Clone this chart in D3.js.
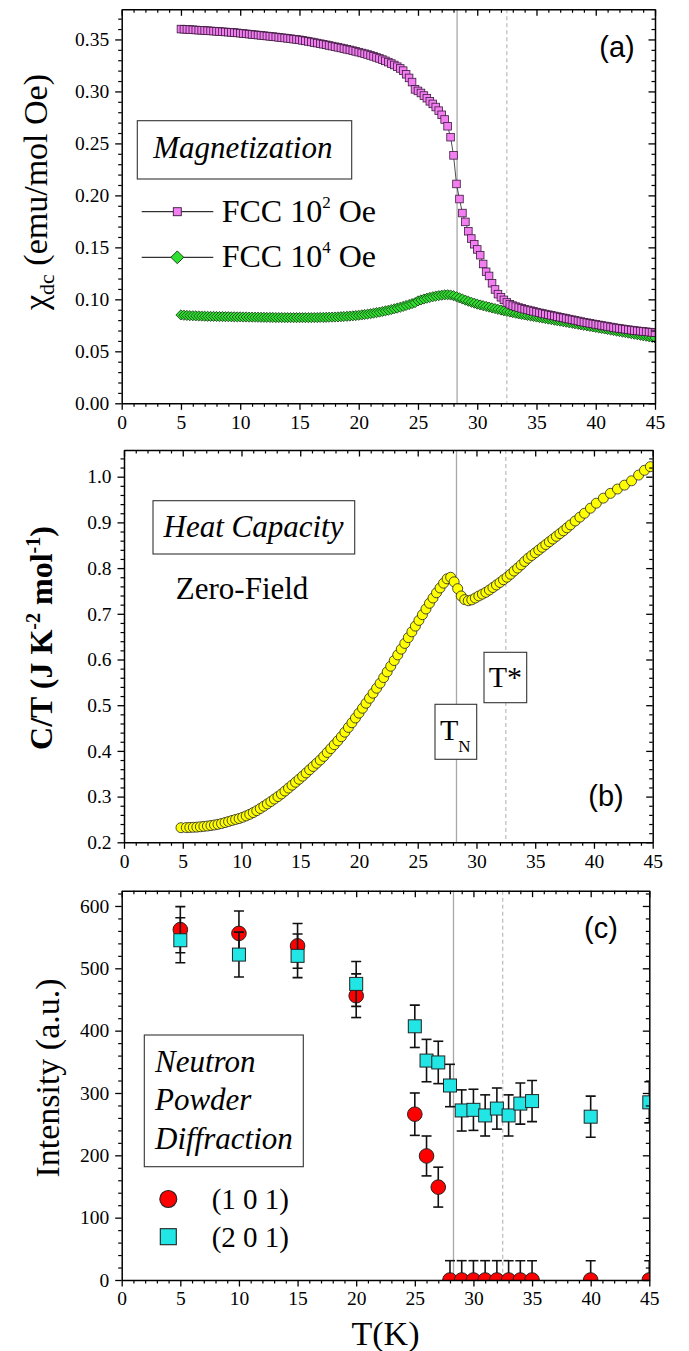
<!DOCTYPE html>
<html>
<head>
<meta charset="utf-8">
<script src="https://cdn.jsdelivr.net/npm/d3@7"></script>
<style>
    body { margin: 0; background: #fff; }
    svg text { font-family: "Liberation Serif", "Tinos", "Times New Roman", "DejaVu Serif", serif; }
    svg text.sans { font-family: "Liberation Sans", Arimo, Arial, sans-serif; }
</style>
</head>
<body>
<div id="chart"></div>
<script>
// ---- (a) magnetization, both fields measured on the same T grid
const magT = [
    5, 5.25, 5.5, 5.75, 6, 6.25, 6.5, 6.75, 7, 7.25, 7.5, 7.75, 8, 8.25, 8.5, 8.75,
    9, 9.25, 9.5, 9.75, 10, 10.25, 10.5, 10.75, 11, 11.25, 11.5, 11.75, 12, 12.25, 12.5, 12.75,
    13, 13.25, 13.5, 13.75, 14, 14.25, 14.5, 14.75, 15, 15.25, 15.5, 15.75, 16, 16.25, 16.5, 16.75,
    17, 17.25, 17.5, 17.75, 18, 18.25, 18.5, 18.75, 19, 19.25, 19.5, 19.75, 20, 20.25, 20.5, 20.75,
    21, 21.25, 21.5, 21.75, 22, 22.25, 22.5, 22.75, 23, 23.25, 23.5, 23.75, 24, 24.25, 24.5, 24.75,
    25, 25.25, 25.5, 25.75, 26, 26.25, 26.5, 26.75, 27, 27.25, 27.5, 27.75, 28, 28.25, 28.5, 28.75,
    29, 29.25, 29.5, 29.75, 30, 30.25, 30.5, 30.75, 31, 31.25, 31.5, 31.75, 32, 32.25, 32.5, 32.75,
    33, 33.25, 33.5, 33.75, 34, 34.25, 34.5, 34.75, 35, 35.25, 35.5, 35.75, 36, 36.25, 36.5, 36.75,
    37, 37.25, 37.5, 37.75, 38, 38.25, 38.5, 38.75, 39, 39.25, 39.5, 39.75, 40, 40.25, 40.5, 40.75,
    41, 41.25, 41.5, 41.75, 42, 42.25, 42.5, 42.75, 43, 43.25, 43.5, 43.75, 44, 44.25, 44.5, 44.75,
    45
];
const chi100 = [
    .3600, .3598, .3597, .3595, .3593, .3591, .3589, .3588, .3586, .3584, .3582, .3580, .3578, .3576, .3574, .3572,
    .3570, .3568, .3566, .3563, .3560, .3557, .3554, .3551, .3548, .3545, .3542, .3539, .3536, .3533, .3530, .3527,
    .3524, .3520, .3517, .3514, .3510, .3507, .3503, .3500, .3496, .3491, .3486, .3481, .3476, .3470, .3465, .3459,
    .3454, .3448, .3442, .3436, .3430, .3424, .3418, .3412, .3405, .3399, .3392, .3385, .3378, .3370, .3363, .3355,
    .3346, .3337, .3327, .3317, .3306, .3294, .3282, .3268, .3254, .3238, .3221, .3200, .3165, .3130, .3090, .3020,
    .3005, .2985, .2960, .2935, .2905, .2880, .2850, .2815, .2775, .2730, .2665, .2560, .2385, .2110, .1965, .1830,
    .1745, .1655, .1585, .1530, .1480, .1425, .1340, .1265, .1225, .1155, .1095, .1050, .1020, .0995, .0970, .0952,
    .0940, .0930, .0921, .0913, .0905, .0898, .0891, .0884, .0877, .0870, .0864, .0858, .0852, .0846, .0840, .0834,
    .0828, .0822, .0816, .0810, .0804, .0798, .0792, .0786, .0780, .0775, .0769, .0764, .0759, .0754, .0749, .0744,
    .0739, .0734, .0729, .0724, .0720, .0716, .0712, .0708, .0704, .0700, .0697, .0694, .0691, .0688, .0685, .0682,
    .0679
];
const chi10k = [
    .0850, .0847, .0845, .0843, .0842, .0841, .0840, .0839, .0838, .0837, .0836, .0836, .0835, .0834, .0834, .0833,
    .0833, .0832, .0832, .0831, .0831, .0830, .0830, .0829, .0829, .0828, .0828, .0827, .0827, .0826, .0826, .0826,
    .0825, .0825, .0825, .0824, .0824, .0824, .0824, .0824, .0824, .0824, .0824, .0824, .0824, .0825, .0825, .0826,
    .0826, .0827, .0828, .0829, .0830, .0831, .0833, .0835, .0837, .0839, .0841, .0844, .0847, .0850, .0854, .0858,
    .0862, .0867, .0872, .0877, .0883, .0889, .0895, .0902, .0909, .0916, .0924, .0932, .0941, .0950, .0959, .0968,
    .0985, .0994, .1003, .1011, .1018, .1025, .1031, .1036, .1040, .1043, .1044, .1042, .1035, .1025, .1014, .1003,
    .0992, .0982, .0972, .0963, .0954, .0946, .0939, .0932, .0925, .0918, .0911, .0904, .0897, .0890, .0884, .0878,
    .0872, .0866, .0860, .0855, .0850, .0845, .0840, .0835, .0830, .0825, .0820, .0815, .0810, .0805, .0800, .0795,
    .0790, .0785, .0780, .0775, .0770, .0765, .0760, .0755, .0750, .0745, .0740, .0735, .0730, .0725, .0720, .0715,
    .0710, .0705, .0700, .0695, .0690, .0685, .0680, .0675, .0670, .0665, .0660, .0655, .0650, .0645, .0640, .0635,
    .0630
];

// ---- (b) heat capacity
const cpT = [
    4.85, 5.3, 5.6, 5.9, 6.2, 6.5, 6.8, 7.1, 7.4, 7.7, 8.0, 8.3, 8.6, 8.9, 9.2, 9.5,
    9.8, 10.1, 10.4, 10.7, 11.0, 11.3, 11.6, 11.9, 12.2, 12.5, 12.8, 13.1, 13.4, 13.7, 14.0, 14.3,
    14.6, 14.9, 15.2, 15.5, 15.8, 16.1, 16.4, 16.7, 17.0, 17.3, 17.6, 17.9, 18.2, 18.5, 18.8, 19.1,
    19.4, 19.7, 20.0, 20.3, 20.6, 20.9, 21.2, 21.5, 21.8, 22.1, 22.4, 22.7, 23.0, 23.3, 23.6, 23.9,
    24.2, 24.5, 24.8, 25.1, 25.4, 25.7, 26.0, 26.3, 26.6, 26.9, 27.2, 27.5, 27.8, 28.1, 28.4, 28.7,
    29.0, 29.3, 29.6, 29.9, 30.2, 30.5, 30.8, 31.1, 31.4, 31.7, 32.0, 32.3, 32.6, 32.9, 33.2, 33.5,
    33.8, 34.1, 34.4, 34.7, 35.0, 35.3, 35.6, 35.9, 36.2, 36.5, 36.8, 37.1, 37.4, 37.7, 38.0, 38.4,
    38.8, 39.2, 39.7, 40.2, 40.8, 41.4, 42.0, 42.6, 43.2, 43.8, 44.3, 44.8
];
const cpOverT = [
    .2320, .2322, .2325, .2328, .2332, .2340, .2348, .2356, .2367, .2379, .2393, .2410, .2432, .2455, .2478, .2500,
    .2520, .2548, .2578, .2612, .2650, .2692, .2740, .2790, .2840, .2892, .2946, .3000, .3057, .3121, .3186, .3250,
    .3314, .3379, .3447, .3517, .3588, .3659, .3730, .3800, .3880, .3965, .4050, .4135, .4220, .4310, .4410, .4513,
    .4616, .4720, .4826, .4933, .5043, .5152, .5262, .5371, .5480, .5604, .5729, .5853, .5977, .6100, .6226, .6352,
    .6478, .6605, .6730, .6855, .6980, .7105, .7230, .7345, .7460, .7565, .7670, .7765, .7800, .7700, .7550, .7390,
    .7310, .7285, .7305, .7345, .7390, .7430, .7470, .7520, .7575, .7630, .7685, .7745, .7800, .7865, .7935, .8000,
    .8070, .8145, .8215, .8275, .8335, .8395, .8455, .8515, .8575, .8635, .8695, .8755, .8815, .8880, .8945, .9030,
    .9115, .9200, .9310, .9420, .9530, .9635, .9730, .9815, .9910, 1.0035, 1.0140, 1.0220
];

// ---- (c) neutron powder diffraction
const npdT = [5, 10, 15, 20, 25, 26, 27, 28, 29, 30, 31, 32, 33, 34, 35, 40, 45];
const int101 = [562, 556, 536, 456, 266, 199, 149, 0, 0, 0, 0, 0, 0, 0, 0, 0, 0];
const err101 = [37, 36, 36, 35, 34, 32, 32, 31, 31, 31, 31, 31, 31, 31, 31, 31, 31];
const int201 = [545, 522, 520, 475, 407, 352, 349, 312, 272, 273, 264, 275, 264, 283, 287, 262, 285];
const err201 = [36, 36, 35, 36, 34, 34, 34, 34, 33, 33, 33, 33, 33, 33, 33, 33, 33];

// transition temperatures (vertical guide lines)
const TN = 28.3;
const Tstar = 32.5;

// ticks
const tTicks = [0, 5, 10, 15, 20, 25, 30, 35, 40, 45];
const chiTicks = [0, 0.05, 0.10, 0.15, 0.20, 0.25, 0.30, 0.35];
const cpTicks = [0.2, 0.3, 0.4, 0.5, 0.6, 0.7, 0.8, 0.9, 1.0];
const intTicks = [0, 100, 200, 300, 400, 500, 600];


const W = 689;
const H = 1351;

const svg = d3.select('#chart').append('svg')
    .attr('width', W)
    .attr('height', H)
    .style('display', 'block');

const makePanel = function (id, box, yDomain) {
    const x = d3.scaleLinear().domain([0, 45]).range([box.left, box.right]);
    const y = d3.scaleLinear().domain(yDomain).range([box.bottom, box.top]);

    svg.append('clipPath').attr('id', 'clip-' + id)
        .append('rect')
        .attr('x', box.left).attr('y', box.top)
        .attr('width', box.right - box.left).attr('height', box.bottom - box.top);

    const g = svg.append('g').attr('class', 'panel-' + id);

    // T_N and T* guides
    g.append('line')
        .attr('x1', x(TN)).attr('x2', x(TN))
        .attr('y1', box.top).attr('y2', box.bottom)
        .attr('stroke', '#a8a8a8').attr('stroke-width', 1.3);
    g.append('line')
        .attr('x1', x(Tstar)).attr('x2', x(Tstar))
        .attr('y1', box.top).attr('y2', box.bottom)
        .attr('stroke', '#b4b4b4').attr('stroke-width', 1.1)
        .attr('stroke-dasharray', '4,3');

    const plot = g.append('g').attr('clip-path', 'url(#clip-' + id + ')');
    return {x: x, y: y, box: box, g: g, plot: plot};
};

const styleAxis = function (sel) {
    sel.attr('font-family', null).attr('font-size', 19.5);
    sel.select('.domain').attr('stroke', '#000').attr('stroke-width', 1.5);
    sel.selectAll('.tick line').attr('stroke', '#000').attr('stroke-width', 1.3);
    sel.selectAll('.tick text').attr('fill', '#000');
};

const noDomain = function (sel) {
    sel.select('.domain').remove();
    sel.selectAll('.tick line').attr('stroke', '#000').attr('stroke-width', 1.2);
};

const drawAxes = function (p, yMajor, yMinorStep, yFmt) {
    const x = p.x, y = p.y, box = p.box;
    const xMinor = d3.range(0, 45.01, 1).filter(function (d) { return d % 5 !== 0; });
    const yd = y.domain();
    const yMinor = d3.range(yMajor[0], yd[1] + 1e-9, yMinorStep)
        .filter(function (v) {
            return !yMajor.some(function (m) { return Math.abs(m - v) < yMinorStep / 10; });
        });
    const ax = p.g.append('g');

    // bottom (outward) and top (inward)
    ax.append('g').attr('transform', 'translate(0,' + box.bottom + ')')
        .call(d3.axisBottom(x).tickValues(xMinor).tickSize(3.5).tickFormat(''))
        .call(noDomain);
    ax.append('g').attr('transform', 'translate(0,' + box.bottom + ')')
        .call(d3.axisBottom(x).tickValues(tTicks).tickSize(6.5).tickSizeOuter(0).tickPadding(5)
            .tickFormat(d3.format('d')))
        .call(styleAxis);
    ax.append('g').attr('transform', 'translate(0,' + box.top + ')')
        .call(d3.axisTop(x).tickValues(xMinor).tickSize(-3.5).tickFormat(''))
        .call(noDomain);
    ax.append('g').attr('transform', 'translate(0,' + box.top + ')')
        .call(d3.axisTop(x).tickValues(tTicks).tickSize(-6.5).tickSizeOuter(0).tickFormat(''))
        .call(styleAxis);

    // left (outward) and right (inward)
    ax.append('g').attr('transform', 'translate(' + box.left + ',0)')
        .call(d3.axisLeft(y).tickValues(yMinor).tickSize(3.5).tickFormat(''))
        .call(noDomain);
    ax.append('g').attr('transform', 'translate(' + box.left + ',0)')
        .call(d3.axisLeft(y).tickValues(yMajor).tickSize(6.5).tickSizeOuter(0).tickPadding(6)
            .tickFormat(d3.format(yFmt)))
        .call(styleAxis);
    ax.append('g').attr('transform', 'translate(' + box.right + ',0)')
        .call(d3.axisRight(y).tickValues(yMinor).tickSize(-3.5).tickFormat(''))
        .call(noDomain);
    ax.append('g').attr('transform', 'translate(' + box.right + ',0)')
        .call(d3.axisRight(y).tickValues(yMajor).tickSize(-6.5).tickSizeOuter(0).tickFormat(''))
        .call(styleAxis);
};

const addText = function (parent, x, y, str, size, opts) {
    opts = opts || {};
    return parent.append('text')
        .attr('class', opts.sans ? 'sans' : null)
        .attr('x', x).attr('y', y)
        .attr('font-size', size)
        .attr('font-style', opts.italic ? 'italic' : null)
        .attr('font-weight', opts.bold ? 'bold' : null)
        .attr('text-anchor', opts.anchor || 'start')
        .attr('fill', '#000')
        .text(str);
};

const addBox = function (parent, x0, y0, x1, y1) {
    parent.append('rect')
        .attr('x', x0).attr('y', y0)
        .attr('width', x1 - x0).attr('height', y1 - y0)
        .attr('fill', '#fff').attr('stroke', '#333').attr('stroke-width', 1.1);
};

const diamond = d3.symbol().type(d3.symbolSquare).size(52)();
const diamondBig = d3.symbol().type(d3.symbolSquare).size(82)();


// =================== (a) Magnetization ===================
const pa = makePanel('a', {left: 121.7, right: 655, top: 9.3, bottom: 403.3}, [0, 0.379]);
const magPink = magT.map(function (t, i) { return {t: t, v: chi100[i]}; });
const magGreen = magT.map(function (t, i) { return {t: t, v: chi10k[i]}; });

const lineA = d3.line()
    .x(function (d) { return pa.x(d.t); })
    .y(function (d) { return pa.y(d.v); });

pa.plot.append('path').datum(magGreen)
    .attr('d', lineA).attr('fill', 'none').attr('stroke', '#222').attr('stroke-width', 0.8);
pa.plot.selectAll('path.dia').data(magGreen).enter().append('path')
    .attr('class', 'dia')
    .attr('d', diamond)
    .attr('transform', function (d) {
        return 'translate(' + pa.x(d.t) + ',' + pa.y(d.v) + ') rotate(45)';
    })
    .attr('fill', '#2fe02f').attr('stroke', '#1c3a1c').attr('stroke-width', 0.8);

pa.plot.append('path').datum(magPink)
    .attr('d', lineA).attr('fill', 'none').attr('stroke', '#222').attr('stroke-width', 0.8);
pa.plot.selectAll('rect.sq').data(magPink).enter().append('rect')
    .attr('class', 'sq')
    .attr('x', function (d) { return pa.x(d.t) - 3.8; })
    .attr('y', function (d) { return pa.y(d.v) - 3.8; })
    .attr('width', 7.6).attr('height', 7.6)
    .attr('fill', '#f27ef2').attr('stroke', '#3c1a3c').attr('stroke-width', 0.8);

drawAxes(pa, chiTicks, 0.01, '.2f');

addBox(pa.g, 137.3, 120.7, 351.7, 179);
addText(pa.g, 153.3, 158.3, 'Magnetization', 31, {italic: true});

// legend
pa.g.append('line').attr('x1', 141.7).attr('x2', 213.3).attr('y1', 211.7).attr('y2', 211.7)
    .attr('stroke', '#000').attr('stroke-width', 1);
pa.g.append('rect').attr('x', 177.3 - 4).attr('y', 211.7 - 4).attr('width', 8).attr('height', 8)
    .attr('fill', '#f27ef2').attr('stroke', '#3c1a3c').attr('stroke-width', 0.9);
pa.g.append('line').attr('x1', 141.7).attr('x2', 213.3).attr('y1', 257.3).attr('y2', 257.3)
    .attr('stroke', '#000').attr('stroke-width', 1);
pa.g.append('path').attr('d', diamondBig)
    .attr('transform', 'translate(177.3,257.3) rotate(45)')
    .attr('fill', '#2fe02f').attr('stroke', '#1c3a1c').attr('stroke-width', 0.9);

[{y: 221.7, p: '2'}, {y: 266.7, p: '4'}].forEach(function (e) {
    const t = addText(pa.g, 221.7, e.y, 'FCC 10', 32);
    t.append('tspan').attr('dy', -13.5).attr('font-size', 17).text(e.p);
    t.append('tspan').attr('dy', 13.5).text(' Oe');
});

addText(pa.g, 617, 57, '(a)', 29, {sans: true, anchor: 'middle'});

const yTitleA = pa.g.append('text')
    .attr('transform', 'translate(47,192) rotate(-90)')
    .attr('text-anchor', 'middle')
    .attr('font-size', 34);
yTitleA.append('tspan').text('\u03c7');
yTitleA.append('tspan').attr('dy', 7).attr('font-size', 22).text('dc');
yTitleA.append('tspan').attr('dy', -7).text(' (emu/mol Oe)');


// =================== (b) Heat capacity ===================
const pb = makePanel('b', {left: 124, right: 652.7, top: 450, bottom: 842.3}, [0.2, 1.0584]);
const cpData = cpT.map(function (t, i) { return {t: t, v: cpOverT[i]}; });

pb.plot.selectAll('circle').data(cpData).enter().append('circle')
    .attr('cx', function (d) { return pb.x(d.t); })
    .attr('cy', function (d) { return pb.y(d.v); })
    .attr('r', 5)
    .attr('fill', '#ffff00').attr('stroke', '#222').attr('stroke-width', 0.8);

drawAxes(pb, cpTicks, 0.02, '.1f');

addBox(pb.g, 153, 500.7, 354.7, 554);
addText(pb.g, 163.5, 536.7, 'Heat Capacity', 31, {italic: true});
addText(pb.g, 175.8, 599.3, 'Zero-Field', 31);

addBox(pb.g, 484, 652.3, 526.7, 702.7);
addText(pb.g, 505.3, 687, 'T*', 30, {anchor: 'middle'});
addBox(pb.g, 435, 704.3, 476.7, 759.3);
const tnLabel = addText(pb.g, 440, 740, 'T', 30);
tnLabel.append('tspan').attr('dy', 11.7).attr('font-size', 17).text('N');

addText(pb.g, 606, 806, '(b)', 29, {sans: true, anchor: 'middle'});

const yTitleB = pb.g.append('text')
    .attr('transform', 'translate(52,638) rotate(-90)')
    .attr('text-anchor', 'middle')
    .attr('font-size', 32).attr('font-weight', 'bold');
yTitleB.append('tspan').text('C/T (J K');
yTitleB.append('tspan').attr('dy', -12).attr('font-size', 20).text('-2');
yTitleB.append('tspan').attr('dy', 12).text(' mol');
yTitleB.append('tspan').attr('dy', -12).attr('font-size', 20).text('-1');
yTitleB.append('tspan').attr('dy', 12).text(')');


// =================== (c) Neutron powder diffraction ===================
const pc = makePanel('c', {left: 121.7, right: 649.3, top: 890.7, bottom: 1280}, [0, 624.5]);
const d101 = npdT.map(function (t, i) { return {t: t, v: int101[i], e: err101[i]}; });
const d201 = npdT.map(function (t, i) { return {t: t, v: int201[i], e: err201[i]}; });

const errorBars = function (data, cls) {
    const eg = pc.plot.append('g').attr('class', cls)
        .attr('stroke', '#111').attr('stroke-width', 1.6);
    data.forEach(function (d) {
        const cx = pc.x(d.t);
        const y0 = pc.y(d.v - d.e);
        const y1 = pc.y(d.v + d.e);
        eg.append('line').attr('x1', cx).attr('x2', cx).attr('y1', y0).attr('y2', y1);
        eg.append('line').attr('x1', cx - 5).attr('x2', cx + 5).attr('y1', y0).attr('y2', y0);
        eg.append('line').attr('x1', cx - 5).attr('x2', cx + 5).attr('y1', y1).attr('y2', y1);
    });
};

errorBars(d101, 'err101');
pc.plot.selectAll('circle').data(d101).enter().append('circle')
    .attr('cx', function (d) { return pc.x(d.t); })
    .attr('cy', function (d) { return pc.y(d.v); })
    .attr('r', 7.3)
    .attr('fill', '#ff0000').attr('stroke', '#222').attr('stroke-width', 1);

errorBars(d201, 'err201');
pc.plot.selectAll('rect').data(d201).enter().append('rect')
    .attr('x', function (d) { return pc.x(d.t) - 6.5; })
    .attr('y', function (d) { return pc.y(d.v) - 6.5; })
    .attr('width', 13).attr('height', 13)
    .attr('fill', '#22e6e6').attr('stroke', '#222').attr('stroke-width', 1);

drawAxes(pc, intTicks, 20, 'd');

addBox(pc.g, 144.3, 1035, 303.3, 1166.7);
addText(pc.g, 155, 1071.7, 'Neutron', 31, {italic: true});
addText(pc.g, 155, 1110, 'Powder', 31, {italic: true});
addText(pc.g, 155, 1149.3, 'Diffraction', 31, {italic: true});

pc.g.append('circle').attr('cx', 168.3).attr('cy', 1199).attr('r', 8.5)
    .attr('fill', '#ff0000').attr('stroke', '#222').attr('stroke-width', 1.1);
pc.g.append('rect').attr('x', 168.3 - 8).attr('y', 1236.7 - 8).attr('width', 16).attr('height', 16)
    .attr('fill', '#22e6e6').attr('stroke', '#222').attr('stroke-width', 1.1);
addText(pc.g, 211.7, 1209, '(1 0 1)', 29);
addText(pc.g, 211.7, 1247, '(2 0 1)', 29);

addText(pc.g, 601, 938, '(c)', 29, {sans: true, anchor: 'middle'});

svg.append('text')
    .attr('transform', 'translate(59,1078) rotate(-90)')
    .attr('text-anchor', 'middle')
    .attr('font-size', 34)
    .text('Intensity (a.u.)');

addText(svg, 385.5, 1345, 'T(K)', 34, {anchor: 'middle'});
</script>
</body>
</html>
